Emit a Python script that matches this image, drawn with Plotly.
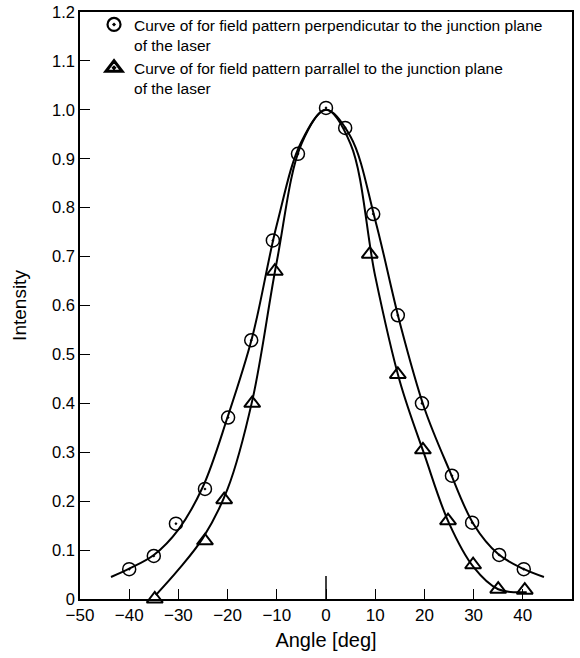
import plotly.graph_objects as go

# Measured data points
perp_x = [-40, -35, -30.5, -24.6, -19.9, -15.2, -10.8, -5.7, 0, 3.9, 9.6, 14.6, 19.5, 25.6, 29.7, 35.2, 40.2]
perp_y = [0.061, 0.088, 0.154, 0.225, 0.371, 0.529, 0.733, 0.91, 1.004, 0.963, 0.787, 0.58, 0.40, 0.252, 0.156, 0.09, 0.061]

par_x = [-34.8, -24.6, -20.7, -15.0, -10.4, 8.9, 14.6, 19.7, 24.8, 29.9, 35.0, 40.4]
par_y = [0.0, 0.119, 0.203, 0.40, 0.67, 0.705, 0.459, 0.305, 0.16, 0.07, 0.02, 0.018]

# Fitted curves
perp_curve_x = [-43.7, -40, -35, -30, -25, -20, -15, -10, -5, 0, 5, 10, 15, 20, 25, 30, 35, 40, 44.3]
perp_curve_y = [0.045, 0.062, 0.09, 0.142, 0.23, 0.372, 0.535, 0.765, 0.935, 1.0, 0.945, 0.775, 0.565, 0.39, 0.265, 0.153, 0.092, 0.062, 0.045]

par_curve_x = [-34.6, -30, -25, -20, -15, -10, -5, 0, 5, 10, 15, 20, 25, 30, 35, 40.8]
par_curve_y = [0.008, 0.06, 0.125, 0.225, 0.405, 0.69, 0.93, 1.0, 0.93, 0.66, 0.445, 0.295, 0.155, 0.065, 0.02, 0.014]

x_ticks = [-50, -40, -30, -20, -10, 0, 10, 20, 30, 40, 50]
y_ticks = [0, 0.1, 0.2, 0.3, 0.4, 0.5, 0.6, 0.7, 0.8, 0.9, 1.0, 1.1, 1.2]
y_ticktext = ["0", "0.1", "0.2", "0.3", "0.4", "0.5", "0.6", "0.7", "0.8", "0.9", "1.0", "1.1", "1.2"]

legend_perp = "Curve of for field pattern perpendicutar to the junction plane<br>of the laser"
legend_par = "Curve of for field pattern parrallel to the junction plane<br>of the laser"

FONT = "Liberation Sans, Arial, sans-serif"

fig = go.Figure()
fig.add_trace(go.Scatter(x=perp_curve_x, y=perp_curve_y, mode="lines",
                         line=dict(color="black", width=2, shape="spline", smoothing=1.0),
                         showlegend=False, hoverinfo="skip"))
fig.add_trace(go.Scatter(x=par_curve_x, y=par_curve_y, mode="lines",
                         line=dict(color="black", width=2, shape="spline", smoothing=1.0),
                         showlegend=False, hoverinfo="skip"))
fig.add_trace(go.Scatter(x=perp_x, y=perp_y, mode="markers",
                         marker=dict(symbol="circle-open-dot", size=13, color="black", line=dict(width=1.5)),
                         showlegend=False, cliponaxis=False))
fig.add_trace(go.Scatter(x=par_x, y=par_y, mode="markers",
                         marker=dict(symbol="triangle-up-open", size=14, color="black", line=dict(width=2)),
                         showlegend=False, cliponaxis=False))
# legend entries
fig.add_trace(go.Scatter(x=[None], y=[None], mode="markers", name=legend_perp,
                         marker=dict(symbol="circle-open-dot", size=13, color="black", line=dict(width=2.2))))
fig.add_trace(go.Scatter(x=[None], y=[None], mode="markers", name=legend_par,
                         marker=dict(symbol="triangle-up-open-dot", size=14, color="black", line=dict(width=3))))

# taller tick at zero
fig.add_shape(type="line", xref="x", yref="y", x0=0, x1=0, y0=0, y1=0.047,
              line=dict(color="black", width=1.5))

fig.update_layout(
    width=580, height=658,
    margin=dict(l=80, r=8, t=12, b=59),
    paper_bgcolor="white", plot_bgcolor="white",
    font=dict(family=FONT, color="black", size=16),
    legend=dict(x=0.0285, y=1.007, xanchor="left", yanchor="top", valign="top",
                bgcolor="rgba(0,0,0,0)", font=dict(size=15.5)),
)
fig.update_xaxes(range=[-50, 50], tickvals=x_ticks, ticks="inside", ticklen=10, tickwidth=1.3,
                 tickcolor="black", showline=True, linecolor="black", linewidth=1.5, mirror=True,
                 showgrid=False, zeroline=False, tickfont=dict(size=17), automargin=False,
                 title=dict(text="Angle [deg]", font=dict(size=20), standoff=9))
fig.update_yaxes(range=[0, 1.2], tickvals=y_ticks, ticktext=y_ticktext, ticks="inside", ticklen=10,
                 tickwidth=1.3, tickcolor="black",
                 showline=True, linecolor="black", linewidth=1.5, mirror=True,
                 showgrid=False, zeroline=False, tickfont=dict(size=16.5), automargin=False,
                 title=dict(text="Intensity", font=dict(size=19), standoff=20))

fig.write_html("out.html")
